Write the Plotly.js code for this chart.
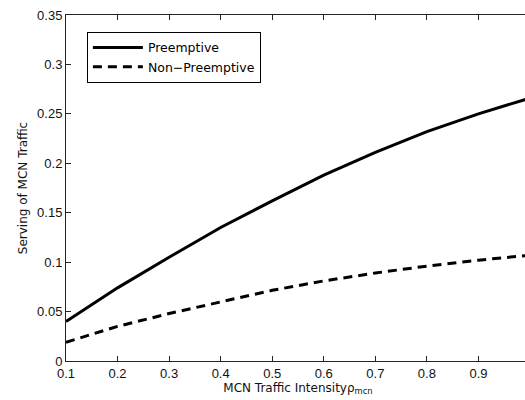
<!DOCTYPE html>
<html>
<head>
<meta charset="utf-8">
<script src="https://cdn.plot.ly/plotly-3.0.1.min.js"></script>
<style>
html,body{margin:0;padding:0;width:525px;height:400px;overflow:hidden;background:#fff;}
#chart{width:540px;height:400px;}
</style>
</head>
<body>
<div id="chart"></div>
<script>
const rho = [0.1, 0.2, 0.3, 0.4, 0.5, 0.6, 0.7, 0.8, 0.9, 1.0];
const preemptive = [0.040, 0.074, 0.105, 0.135, 0.162, 0.188, 0.211, 0.232, 0.250, 0.266];
const nonPreemptive = [0.019, 0.035, 0.048, 0.060, 0.0715, 0.081, 0.089, 0.096, 0.102, 0.107];
const xTicks = [0.1, 0.2, 0.3, 0.4, 0.5, 0.6, 0.7, 0.8, 0.9, 1.0];
const xTickText = ['0.1', '0.2', '0.3', '0.4', '0.5', '0.6', '0.7', '0.8', '0.9', ''];
const yTicks = [0, 0.05, 0.1, 0.15, 0.2, 0.25, 0.3, 0.35];
const yTickText = ['0', '0.05', '0.1', '0.15', '0.2', '0.25', '0.3', '0.35'];

const tickFont = {family: 'Liberation Sans, Arial, sans-serif', size: 13, color: '#111'};
const titleFont = {family: 'DejaVu Sans, sans-serif', size: 12, color: '#111'};

const traces = [
  {x: rho, y: preemptive, name: 'Preemptive', type: 'scatter', mode: 'lines',
   line: {color: '#000', width: 3}},
  {x: rho, y: nonPreemptive, name: 'Non\u2212Preemptive', type: 'scatter', mode: 'lines',
   line: {color: '#000', width: 3, dash: '9px,6px'}}
];

const axisCommon = {
  showgrid: false, zeroline: false, showline: true, linecolor: '#222', linewidth: 1,
  mirror: 'ticks', ticks: 'inside', ticklen: 5, tickcolor: '#222', tickwidth: 1,
  tickfont: tickFont
};

const layout = {
  width: 540, height: 400,
  margin: {l: 66, r: 10, t: 15, b: 39},
  paper_bgcolor: '#fff', plot_bgcolor: '#fff',
  font: tickFont,
  showlegend: true,
  legend: {
    x: 0.045, y: 0.951, xanchor: 'left', yanchor: 'top',
    bordercolor: '#000', borderwidth: 1, bgcolor: '#fff',
    font: {family: 'DejaVu Sans, sans-serif', size: 12.5, color: '#000'},
    tracegroupgap: 0, itemwidth: 50
  },
  xaxis: Object.assign({}, axisCommon, {
    range: [0.1, 1.0], tickvals: xTicks, ticktext: xTickText,
    title: {text: 'MCN Traffic Intensity\u03c1<sub>mcn</sub>', font: titleFont, standoff: 1}
  }),
  yaxis: Object.assign({}, axisCommon, {
    range: [0, 0.35], tickvals: yTicks, ticktext: yTickText,
    title: {text: 'Serving of MCN Traffic', font: titleFont, standoff: 6}
  })
};

Plotly.newPlot('chart', traces, layout, {displayModeBar: false, staticPlot: true});
</script>
</body>
</html>
